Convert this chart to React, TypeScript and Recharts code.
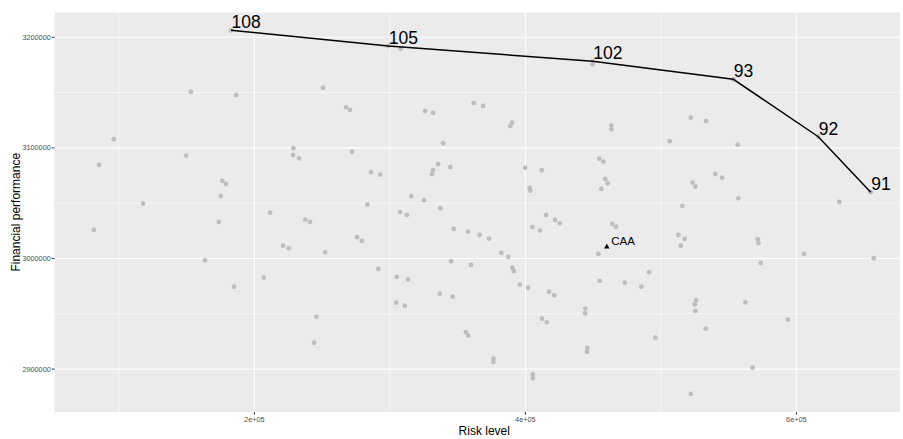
import { ScatterChart, Scatter, XAxis, YAxis, CartesianGrid, Label } from 'recharts'

const FONT = '"Liberation Sans", Arial, sans-serif'

// all portfolios (grey cloud)
const greyRisk = [
  182800, 153100, 186700, 96200, 85400, 149600, 228800, 228600, 233000, 176400,
  179100, 175200, 117900, 211600, 81500, 173700, 163600, 221200, 225400, 206900,
  185000, 298900, 308000, 449700, 449700, 250700, 267700, 270600, 326000, 331900,
  361900, 368800, 390200, 388900, 339300, 272100, 335600, 331900, 331100, 344600,
  286100, 293000, 399800, 412100, 403200, 403700, 454600, 457600, 315900, 325200,
  283400, 337300, 307500, 312500, 237600, 241100, 415300, 421900, 425400, 275800,
  279300, 252200, 347200, 357700, 366300, 373200, 405200, 410800, 291500, 345200,
  359900, 382300, 387500, 390400, 391400, 453900, 305100, 313400, 336800, 346400,
  304800, 311000, 395900, 402000, 417500, 421400, 454900, 245800, 244100, 412300,
  415800, 444300, 444100, 356200, 357900, 376400, 376400, 445800, 445500, 405500,
  405500, 553500, 616200, 654900, 463500, 463500, 522100, 533400, 506600, 556700,
  459000, 460800, 456100, 523500, 525500, 540200, 545200, 557200, 515900, 631700,
  464200, 466900, 512900, 517600, 514700, 571500, 572000, 605700, 657100, 573700,
  491300, 473400, 485600, 526000, 525000, 525500, 562400, 593700, 533100, 495900,
  567800, 522100,
]
const greyPerf = [
  3206300, 3150800, 3147800, 3107800, 3084600, 3093000, 3099600, 3093600, 3090600, 3070100,
  3067400, 3056500, 3049600, 3041400, 3025800, 3033000, 2998400, 3011600, 3009200, 2982700,
  2974500, 3192100, 3189700, 3178300, 3175600, 3154400, 3136700, 3134300, 3133400, 3131600,
  3140600, 3137900, 3122800, 3119800, 3104200, 3096600, 3085200, 3079800, 3076400, 3082700,
  3078000, 3075800, 3082100, 3079800, 3063800, 3061300, 3090200, 3087500, 3056300, 3052600,
  3048700, 3045400, 3042000, 3039400, 3035100, 3033000, 3039400, 3034800, 3031800, 3019200,
  3015900, 3005600, 3026700, 3024200, 3021300, 3017900, 3028500, 3025200, 2990500, 2997500,
  2994100, 3005000, 3001400, 2991700, 2988700, 3004100, 2983300, 2981200, 2968200, 2965500,
  2960000, 2957300, 2976300, 2973600, 2970000, 2966700, 2979700, 2947400, 2923900, 2945600,
  2942300, 2954700, 2950500, 2933300, 2930200, 2909400, 2906500, 2919100, 2915500, 2895300,
  2891700, 3162000, 3110100, 3059900, 3120400, 3116800, 3127300, 3124100, 3106000, 3102900,
  3071900, 3068000, 3062900, 3068600, 3065000, 3076400, 3073100, 3054400, 3047500, 3051100,
  3031200, 3028700, 3021300, 3017700, 3011600, 3017400, 3014000, 3004100, 3000200, 2996000,
  2987600, 2978100, 2974500, 2962200, 2958600, 2952600, 2960400, 2944700, 2936600, 2928400,
  2901300, 2877500,
]

// efficient frontier
const frontierRisk = [182800, 298900, 449700, 553500, 616200, 654900]
const frontierPerf = [3206300, 3192100, 3178300, 3162000, 3110100, 3059900]
const frontierLabels = ['108', '105', '102', '93', '92', '91']

// current allocation
const caaRisk = [460100]
const caaPerf = [3010900]
const caaLabels = ['CAA']

const xMajor = [200000, 400000, 600000]
const xMinor = [100000, 300000, 500000]
const yMajor = [2900000, 3000000, 3100000, 3200000]
const yMinor = [2950000, 3050000, 3150000]

const greyData = greyRisk.map((x, i) => ({ x, y: greyPerf[i] }))
const frontierData = frontierRisk.map((x, i) => ({ x, y: frontierPerf[i], label: frontierLabels[i] }))
const caaData = caaRisk.map((x, i) => ({ x, y: caaPerf[i], label: caaLabels[i] }))

const GreyDot = (p: any) => <circle cx={p.cx} cy={p.cy} r={2.4} fill="#BEBEBE" />

const FrontierLabel = (p: any) => (
  <text x={p.cx + 0.5} y={p.cy - 2.2} fontSize={17.5} fontFamily={FONT} fill="#000">
    {p.payload.label}
  </text>
)

const CaaMark = (p: any) => (
  <g>
    <polygon
      points={`${p.cx},${p.cy - 3} ${p.cx - 2.7},${p.cy + 2} ${p.cx + 2.7},${p.cy + 2}`}
      fill="#000"
    />
    <text x={p.cx + 4.5} y={p.cy - 1.6} fontSize={11.5} fontFamily={FONT} fill="#000">
      {p.payload.label}
    </text>
  </g>
)

const tickStyle = { fill: '#4D4D4D', fontSize: 7.3, fontFamily: FONT }

export default function App() {
  return (
    <div style={{ position: 'absolute', left: 0, top: 0, background: '#fff' }}>
      <ScatterChart width={903} height={439} margin={{ top: 12.5, right: 3, bottom: 0, left: 0 }}>
        <CartesianGrid
          fill="#EBEBEB"
          fillOpacity={1}
          stroke="#FFFFFF"
          strokeWidth={0.55}
          horizontalValues={yMinor}
          verticalValues={xMinor}
        />
        <CartesianGrid stroke="#FFFFFF" strokeWidth={1.1} horizontalValues={yMajor} verticalValues={xMajor} />
        <XAxis
          type="number"
          dataKey="x"
          domain={[52500, 676500]}
          allowDataOverflow
          ticks={xMajor}
          tickFormatter={(v: number) => `${v / 100000}e+05`}
          axisLine={false}
          tickLine={{ stroke: '#333' }}
          tickSize={2.7}
          tickMargin={2.2}
          tick={tickStyle}
          height={27}
        >
          <Label
            content={({ viewBox }: any) => (
              <text
                x={viewBox.x + viewBox.width / 2 + 7}
                y={435}
                textAnchor="middle"
                fontSize={12}
                fontFamily={FONT}
                fill="#000"
              >
                Risk level
              </text>
            )}
          />
        </XAxis>
        <YAxis
          type="number"
          dataKey="y"
          domain={[2861200, 3222400]}
          allowDataOverflow
          ticks={yMajor}
          axisLine={false}
          tickLine={{ stroke: '#333' }}
          tickSize={2.7}
          tickMargin={1}
          tick={tickStyle}
          width={54.5}
        >
          <Label
            content={({ viewBox }: any) => {
              const cy = viewBox.y + viewBox.height / 2
              return (
                <text
                  x={19.5}
                  y={cy}
                  transform={`rotate(-90 19.5 ${cy})`}
                  textAnchor="middle"
                  fontSize={12}
                  fontFamily={FONT}
                  fill="#000"
                >
                  Financial performance
                </text>
              )
            }}
          />
        </YAxis>
        <Scatter data={greyData} shape={GreyDot} isAnimationActive={false} />
        <Scatter
          data={frontierData}
          line={{ stroke: '#000', strokeWidth: 1.5 }}
          lineType="joint"
          shape={FrontierLabel}
          isAnimationActive={false}
        />
        <Scatter data={caaData} shape={CaaMark} isAnimationActive={false} />
      </ScatterChart>
    </div>
  )
}
